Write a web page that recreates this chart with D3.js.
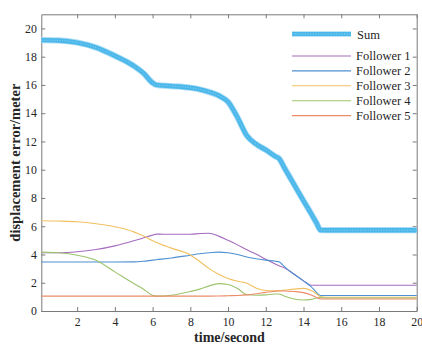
<!DOCTYPE html>
<html>
<head>
<meta charset="utf-8">
<script src="https://cdn.jsdelivr.net/npm/d3@7"></script>
<style>
  html, body { margin: 0; padding: 0; background: #fff; }
  svg { display: block; }
  text { font-family: "Liberation Serif", "Times New Roman", serif; fill: #262626; }
</style>
</head>
<body>
<svg id="chart" width="422" height="345"></svg>
<script>
// Sample times (seconds)
const time = [0.1, 1, 2, 3, 4, 5, 5.5, 6, 6.2, 7, 8, 8.5, 9, 9.5, 10, 10.5, 11, 11.5, 12, 12.5, 12.7, 13, 13.5, 14, 14.4, 14.7, 14.9, 15.2, 16, 18, 20];

// Displacement errors (meters)
const sumError = [19.17, 19.15, 19.0, 18.65, 18.06, 17.35, 16.85, 16.15, 16.0, 15.92, 15.8, 15.68, 15.5, 15.25, 14.8, 13.7, 12.4, 11.8, 11.4, 10.95, 10.8, 10.1, 8.95, 7.8, 6.9, 6.2, 5.73, 5.72, 5.72, 5.72, 5.72];
const follower1 = [4.12, 4.12, 4.19, 4.35, 4.61, 4.97, 5.17, 5.37, 5.44, 5.43, 5.43, 5.48, 5.5, 5.3, 5.0, 4.68, 4.33, 4.02, 3.66, 3.33, 3.2, 3.05, 2.6, 2.13, 1.82, 1.82, 1.82, 1.82, 1.82, 1.82, 1.82];
const follower2 = [3.47, 3.47, 3.47, 3.47, 3.47, 3.48, 3.52, 3.6, 3.63, 3.75, 3.95, 4.05, 4.12, 4.17, 4.12, 4.0, 3.82, 3.7, 3.6, 3.52, 3.48, 3.12, 2.6, 2.13, 1.73, 1.3, 1.1, 1.1, 1.1, 1.1, 1.1];
const follower3 = [6.39, 6.37, 6.32, 6.18, 5.96, 5.6, 5.32, 4.97, 4.85, 4.45, 3.97, 3.5, 3.0, 2.6, 2.3, 2.1, 1.96, 1.61, 1.45, 1.43, 1.44, 1.48, 1.55, 1.6, 1.45, 1.2, 1.0, 0.97, 0.97, 0.97, 0.97];
const follower4 = [4.17, 4.12, 3.95, 3.6, 2.77, 1.94, 1.56, 1.11, 1.05, 1.12, 1.38, 1.55, 1.78, 1.94, 1.88, 1.6, 1.15, 1.12, 1.14, 1.2, 1.2, 1.05, 0.85, 0.78, 0.82, 0.92, 0.95, 0.92, 0.92, 0.92, 0.92];
const follower5 = [1.05, 1.05, 1.05, 1.05, 1.05, 1.05, 1.05, 1.05, 1.05, 1.05, 1.05, 1.05, 1.05, 1.06, 1.08, 1.1, 1.14, 1.22, 1.32, 1.4, 1.42, 1.42, 1.38, 1.3, 1.14, 0.95, 0.85, 0.85, 0.85, 0.85, 0.85];

const seriesNames = ["Sum", "Follower 1", "Follower 2", "Follower 3", "Follower 4", "Follower 5"];
const xTicks = [2, 4, 6, 8, 10, 12, 14, 16, 18, 20];
const yTicks = [0, 2, 4, 6, 8, 10, 12, 14, 16, 18, 20];

const followers = [follower1, follower2, follower3, follower4, follower5];
const followerColors = ["#a66cbf", "#4f90d0", "#f0c060", "#9cc46c", "#eb8c68"];
const sumColor = "#4ab7ea";

const svg = d3.select("#chart");
const plotLeft = 41.3, plotRight = 416.7, plotTop = 14.3, plotBottom = 311;

const x = d3.scaleLinear().domain([0.1, 20]).range([plotLeft, plotRight]);
const y = d3.scaleLinear().domain([0, 21]).range([plotBottom, plotTop]);

const axisColor = "#7a7a7a";
const serif = '"Liberation Serif", "Times New Roman", serif';

// Axes with inward ticks on all four sides
const gx = svg.append("g").attr("transform", `translate(0,${plotBottom})`)
  .call(d3.axisBottom(x).tickValues(xTicks).tickSizeInner(-4).tickSizeOuter(0).tickPadding(6.5));
const gy = svg.append("g").attr("transform", `translate(${plotLeft},0)`)
  .call(d3.axisLeft(y).tickValues(yTicks).tickSizeInner(-4).tickSizeOuter(0).tickPadding(4.5));
const gxt = svg.append("g").attr("transform", `translate(0,${plotTop})`)
  .call(d3.axisTop(x).tickValues(xTicks).tickSizeInner(-4).tickSizeOuter(0).tickFormat(""));
const gyr = svg.append("g").attr("transform", `translate(${plotRight},0)`)
  .call(d3.axisRight(y).tickValues(yTicks).tickSizeInner(-4).tickSizeOuter(0).tickFormat(""));

[gx, gy, gxt, gyr].forEach(g => {
  g.attr("font-family", serif);
  g.selectAll("path").attr("stroke", axisColor);
  g.selectAll("line").attr("stroke", axisColor);
  g.selectAll("text").style("font-family", serif)
    .style("font-size", "11.8px").attr("fill", "#262626");
});

// Axis labels
svg.append("text").attr("x", 229.5).attr("y", 341.5).attr("text-anchor", "middle")
  .style("font-size", "14px").style("font-weight", "bold").text("time/second");
svg.append("text").attr("transform", `translate(19.5,${(plotTop + plotBottom) / 2}) rotate(-90)`)
  .attr("text-anchor", "middle").style("font-size", "14.5px").style("font-weight", "bold")
  .text("displacement error/meter");

const line = d3.line().x(d => x(d[0])).y(d => y(d[1])).curve(d3.curveMonotoneX);

// Follower curves
followers.forEach((vals, i) => {
  svg.append("path").datum(time.map((t, k) => [t, vals[k]]))
    .attr("d", line).attr("fill", "none")
    .attr("stroke", followerColors[i]).attr("stroke-width", 1.1);
});

// Sum curve: thick band of asterisk markers
const sumData = time.map((t, k) => [t, sumError[k]]);
svg.append("path").datum(sumData).attr("d", line).attr("fill", "none")
  .attr("stroke", "#a9dcf5").attr("stroke-width", 6.2).attr("stroke-linejoin", "round");
svg.append("path").datum(sumData).attr("d", line).attr("fill", "none")
  .attr("stroke", sumColor).attr("stroke-width", 4.4).attr("stroke-linejoin", "round");
svg.append("path").datum(sumData).attr("d", line).attr("fill", "none")
  .attr("stroke", "#8fd2f3").attr("stroke-width", 1).attr("stroke-dasharray", "1 1.6");

// Legend
const lg = svg.append("g");
const lx0 = 292, lx1 = 351, tx = 356;
lg.append("line").attr("x1", lx0).attr("x2", lx1).attr("y1", 34).attr("y2", 34)
  .attr("stroke", "#a9dcf5").attr("stroke-width", 5.5);
lg.append("line").attr("x1", lx0).attr("x2", lx1).attr("y1", 34).attr("y2", 34)
  .attr("stroke", sumColor).attr("stroke-width", 3.8);
lg.append("line").attr("x1", lx0).attr("x2", lx1).attr("y1", 34).attr("y2", 34)
  .attr("stroke", "#8fd2f3").attr("stroke-width", 1).attr("stroke-dasharray", "1 1.6");
lg.append("text").attr("x", tx + 1).attr("y", 38.5).style("font-size", "12.5px").text(seriesNames[0]);
followerColors.forEach((c, i) => {
  const ly = 56 + i * 14.9;
  lg.append("line").attr("x1", lx0).attr("x2", lx1).attr("y1", ly).attr("y2", ly)
    .attr("stroke", c).attr("stroke-width", 1.1);
  lg.append("text").attr("x", tx).attr("y", ly + 4.3).style("font-size", "12.5px").text(seriesNames[i + 1]);
});
</script>
</body>
</html>
